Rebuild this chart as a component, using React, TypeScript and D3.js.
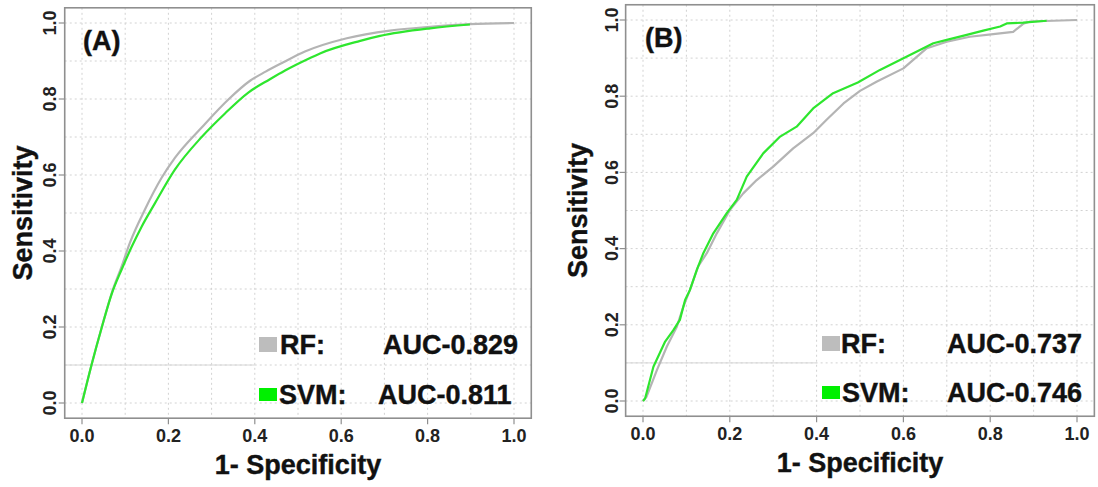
import React, { useEffect, useRef } from 'react';
import * as d3 from 'd3';

// tick labels and grid steps
const tickValues = [0, 0.2, 0.4, 0.6, 0.8, 1.0];
const gridValues = [0, 0.1, 0.2, 0.3, 0.4, 0.5, 0.6, 0.7, 0.8, 0.9, 1.0];

// panel A, RF
const rfA_fpr = [0, 0.022, 0.046, 0.069, 0.092, 0.111, 0.146, 0.184, 0.215, 0.277, 0.34, 0.389, 0.425, 0.465, 0.516, 0.613, 0.713, 0.806, 0.898, 1.0];
const rfA_tpr = [0, 0.1, 0.2, 0.29, 0.36, 0.422, 0.51, 0.592, 0.645, 0.725, 0.8, 0.848, 0.872, 0.896, 0.925, 0.96, 0.98, 0.99, 0.997, 1.0];
// panel A, SVM
const svmA_fpr = [0, 0.022, 0.046, 0.069, 0.092, 0.115, 0.138, 0.169, 0.215, 0.277, 0.331, 0.385, 0.435, 0.47, 0.528, 0.551, 0.644, 0.69, 0.806, 0.898];
const svmA_tpr = [0, 0.1, 0.2, 0.288, 0.352, 0.411, 0.464, 0.526, 0.614, 0.7, 0.762, 0.817, 0.852, 0.875, 0.908, 0.92, 0.953, 0.966, 0.986, 0.996];

// panel B, RF
const rfB_fpr = [0, 0.008, 0.032, 0.055, 0.078, 0.093, 0.108, 0.127, 0.147, 0.17, 0.2, 0.231, 0.262, 0.3, 0.346, 0.392, 0.423, 0.462, 0.5, 0.538, 0.6, 0.654, 0.7, 0.753, 0.807, 0.853, 0.876, 0.892, 1.0];
const rfB_tpr = [0, 0.011, 0.081, 0.143, 0.195, 0.248, 0.291, 0.353, 0.388, 0.44, 0.501, 0.545, 0.58, 0.615, 0.663, 0.703, 0.738, 0.781, 0.814, 0.838, 0.873, 0.926, 0.943, 0.956, 0.963, 0.969, 0.99, 0.996, 1.0];
// panel B, SVM
const svmB_fpr = [0, 0.005, 0.024, 0.051, 0.07, 0.085, 0.097, 0.108, 0.124, 0.139, 0.162, 0.193, 0.216, 0.239, 0.277, 0.316, 0.354, 0.392, 0.438, 0.495, 0.546, 0.592, 0.638, 0.669, 0.7, 0.746, 0.784, 0.823, 0.838, 0.876, 0.93];
const svmB_tpr = [0, 0.007, 0.09, 0.156, 0.186, 0.213, 0.265, 0.291, 0.344, 0.388, 0.44, 0.493, 0.528, 0.589, 0.65, 0.694, 0.72, 0.768, 0.808, 0.836, 0.869, 0.895, 0.921, 0.939, 0.948, 0.961, 0.972, 0.983, 0.991, 0.993, 0.998];

const seriesNames = ['RF:', 'SVM:'];
const aucA = ['AUC-0.829', 'AUC-0.811'];
const aucB = ['AUC-0.737', 'AUC-0.746'];

const FONT = '"Liberation Sans", Arial, Helvetica, sans-serif';

const panels = [
  {
    tag: '(A)', tagX: 83, tagY: 50, smooth: true,
    x0: 82, x1: 514, y0: 403, y1: 23,
    yTitleX: 32, yTickOff: 9, xTitleOff: 56,
    rf: [rfA_fpr, rfA_tpr], svm: [svmA_fpr, svmA_tpr], auc: aucA,
    legX: 259, nameX: [280, 279], aucX: [383, 378], legY: [354, 404],
  },
  {
    tag: '(B)', tagX: 645, tagY: 47, smooth: false,
    x0: 643, x1: 1077, y0: 401, y1: 20,
    yTitleX: 587, yTickOff: 8, xTitleOff: 56,
    rf: [rfB_fpr, rfB_tpr], svm: [svmB_fpr, svmB_tpr], auc: aucB,
    legX: 822, nameX: [841, 842], aucX: [947, 947], legY: [353, 402],
  },
];

function boldText(sel, size) {
  return sel.attr('font-size', size).attr('font-weight', 'bold')
    .attr('font-family', FONT).attr('fill', '#111')
    .attr('stroke', '#111').attr('stroke-width', 0.4);
}

function drawPanel(svg, p) {
  const x = d3.scaleLinear().domain([0, 1]).range([p.x0, p.x1]);
  const y = d3.scaleLinear().domain([0, 1]).range([p.y0, p.y1]);
  const left = x(-0.04), right = x(1.04), top = y(1.04), bottom = y(-0.04);
  const g = svg.append('g');

  // dotted grid
  g.selectAll('line.gx').data(gridValues).enter().append('line')
    .attr('x1', d => x(d)).attr('x2', d => x(d)).attr('y1', top).attr('y2', bottom)
    .attr('stroke', '#d2d2d2').attr('stroke-width', 1).attr('stroke-dasharray', '2,3');
  g.selectAll('line.gy').data(gridValues).enter().append('line')
    .attr('y1', d => y(d)).attr('y2', d => y(d)).attr('x1', left).attr('x2', right)
    .attr('stroke', '#d2d2d2').attr('stroke-width', 1).attr('stroke-dasharray', '2,3');

  // faint solid line left behind by the legend
  g.append('line')
    .attr('x1', left).attr('x2', x(0.4)).attr('y1', y(0.1)).attr('y2', y(0.1))
    .attr('stroke', '#d6d6d6').attr('stroke-width', 1);

  const line = d3.line().x(d => x(d[0])).y(d => y(d[1]))
    .curve(p.smooth ? d3.curveMonotoneX : d3.curveLinear);
  const rfPts = p.rf[0].map((v, i) => [v, p.rf[1][i]]);
  const svmPts = p.svm[0].map((v, i) => [v, p.svm[1][i]]);
  g.append('path').attr('d', line(rfPts)).attr('fill', 'none')
    .attr('stroke', '#b4b4b4').attr('stroke-width', 2.2).attr('stroke-linejoin', 'round');
  g.append('path').attr('d', line(svmPts)).attr('fill', 'none')
    .attr('stroke', '#2ee62e').attr('stroke-width', 2.2).attr('stroke-linejoin', 'round');

  // box
  g.append('rect').attr('x', left).attr('y', top)
    .attr('width', right - left).attr('height', bottom - top)
    .attr('fill', 'none').attr('stroke', '#8f8f8f').attr('stroke-width', 1.6);

  // ticks
  g.selectAll('line.tx').data(tickValues).enter().append('line')
    .attr('x1', d => x(d)).attr('x2', d => x(d)).attr('y1', bottom).attr('y2', bottom + 6)
    .attr('stroke', '#8f8f8f').attr('stroke-width', 1.2);
  g.selectAll('line.ty').data(tickValues).enter().append('line')
    .attr('y1', d => y(d)).attr('y2', d => y(d)).attr('x1', left).attr('x2', left - 6)
    .attr('stroke', '#8f8f8f').attr('stroke-width', 1.2);

  g.selectAll('text.tx').data(tickValues).enter().append('text')
    .attr('x', d => x(d)).attr('y', bottom + 24)
    .attr('text-anchor', 'middle').attr('font-size', 18).attr('font-weight', 'bold')
    .attr('font-family', FONT).attr('fill', '#222')
    .text(d => d.toFixed(1));
  g.selectAll('text.ty').data(tickValues).enter().append('text')
    .attr('transform', d => `translate(${left - p.yTickOff},${y(d)}) rotate(-90)`)
    .attr('text-anchor', 'middle').attr('font-size', 18).attr('font-weight', 'bold')
    .attr('font-family', FONT).attr('fill', '#222')
    .text(d => d.toFixed(1));

  // axis titles
  boldText(g.append('text'), 27)
    .attr('x', (left + right) / 2).attr('y', bottom + p.xTitleOff)
    .attr('text-anchor', 'middle')
    .text('1- Specificity');
  boldText(g.append('text'), 27)
    .attr('transform', `translate(${p.yTitleX},${(top + bottom) / 2}) rotate(-90)`)
    .attr('text-anchor', 'middle')
    .text('Sensitivity');

  boldText(g.append('text'), 27)
    .attr('x', p.tagX).attr('y', p.tagY)
    .text(p.tag);

  // legend
  const swatch = ['#bdbdbd', '#00f000'];
  seriesNames.forEach((name, i) => {
    g.append('rect')
      .attr('x', p.legX).attr('y', p.legY[i] - (i === 0 ? 17 : 16))
      .attr('width', 18).attr('height', i === 0 ? 15 : 13)
      .attr('fill', swatch[i]);
    boldText(g.append('text'), 27)
      .attr('x', p.nameX[i]).attr('y', p.legY[i])
      .text(name);
    boldText(g.append('text'), 27)
      .attr('x', p.aucX[i]).attr('y', p.legY[i])
      .text(p.auc[i]);
  });
}

export default function App() {
  const ref = useRef(null);
  useEffect(() => {
    const svg = d3.select(ref.current);
    svg.selectAll('*').remove();
    panels.forEach(p => drawPanel(svg, p));
  }, []);
  return (
    <svg ref={ref} width={1098} height={487}
      style={{ position: 'absolute', left: 0, top: 0, background: '#fff' }} />
  );
}
